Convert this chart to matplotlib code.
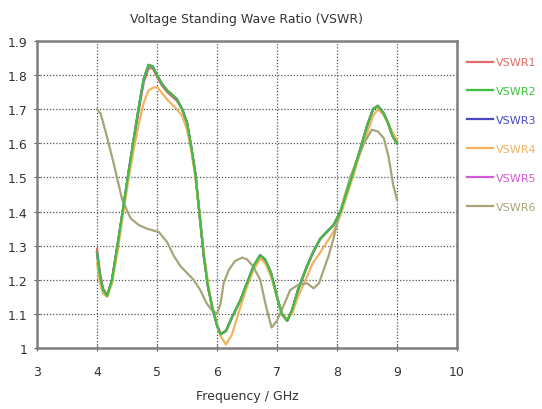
import matplotlib
matplotlib.use("Agg")
import matplotlib.pyplot as plt

plt.rcParams['font.family'] = ['DejaVu Sans']

title = "Voltage Standing Wave Ratio (VSWR)"
xlabel = "Frequency / GHz"
labels = ["VSWR1", "VSWR2", "VSWR3", "VSWR4", "VSWR5", "VSWR6"]
colors = ["#e46a6a", "#3fbf3f", "#4a4ac8", "#f2b35e", "#d45ad4", "#a8a47a"]

x_main = [4.0, 4.05, 4.1, 4.17, 4.25, 4.35, 4.44, 4.53, 4.61, 4.7, 4.78, 4.86, 4.93, 5.0,
          5.08, 5.17, 5.33, 5.42, 5.5, 5.57, 5.64, 5.71, 5.78, 5.85, 5.92, 6.0, 6.06, 6.15,
          6.25, 6.39, 6.5, 6.61, 6.72, 6.8, 6.9, 7.0, 7.08, 7.17, 7.25, 7.35, 7.5, 7.6, 7.72,
          7.83, 7.94, 8.06, 8.17, 8.28, 8.4, 8.5, 8.6, 8.68, 8.77, 8.85, 8.93, 9.0]

vswr2 = [1.28, 1.21, 1.17, 1.153, 1.20, 1.31, 1.415, 1.52, 1.61, 1.71, 1.79, 1.83, 1.825, 1.80,
         1.775, 1.755, 1.73, 1.70, 1.66, 1.59, 1.51, 1.39, 1.27, 1.18, 1.12, 1.066, 1.04, 1.05,
         1.09, 1.14, 1.19, 1.24, 1.272, 1.26, 1.22, 1.15, 1.10, 1.08, 1.11, 1.17, 1.24, 1.28, 1.32,
         1.34, 1.36, 1.40, 1.46, 1.52, 1.59, 1.65, 1.70, 1.71, 1.69, 1.66, 1.62, 1.60]
vswr1 = [1.29, 1.22, 1.175, 1.155, 1.20, 1.31, 1.41, 1.515, 1.605, 1.70, 1.78, 1.82, 1.82, 1.795,
         1.77, 1.75, 1.725, 1.70, 1.66, 1.59, 1.51, 1.39, 1.27, 1.18, 1.12, 1.068, 1.042, 1.05,
         1.09, 1.14, 1.19, 1.24, 1.27, 1.258, 1.22, 1.15, 1.10, 1.08, 1.11, 1.17, 1.24, 1.28, 1.32,
         1.34, 1.36, 1.40, 1.46, 1.52, 1.59, 1.65, 1.70, 1.71, 1.69, 1.66, 1.62, 1.60]
vswr3 = list(vswr2)
vswr5 = list(vswr2)
vswr4 = [1.25, 1.19, 1.16, 1.15, 1.19, 1.29, 1.40, 1.50, 1.58, 1.66, 1.72, 1.755, 1.763, 1.765,
         1.748, 1.728, 1.70, 1.68, 1.64, 1.58, 1.50, 1.39, 1.28, 1.19, 1.12, 1.07, 1.035, 1.01,
         1.04, 1.12, 1.18, 1.23, 1.262, 1.25, 1.21, 1.15, 1.10, 1.085, 1.10, 1.15, 1.21, 1.25, 1.28,
         1.31, 1.34, 1.39, 1.45, 1.51, 1.58, 1.63, 1.68, 1.70, 1.685, 1.66, 1.63, 1.61]

x_six = [4.0, 4.06, 4.15, 4.28, 4.42, 4.56, 4.7, 4.83, 5.03, 5.17, 5.28, 5.39, 5.5, 5.61, 5.72,
         5.83, 5.92, 6.0, 6.06, 6.11, 6.2, 6.3, 6.42, 6.5, 6.6, 6.72, 6.82, 6.91, 7.0, 7.1, 7.22,
         7.35, 7.5, 7.61, 7.7, 7.78, 7.86, 7.94, 8.02, 8.11, 8.22, 8.33, 8.45, 8.58, 8.68, 8.78,
         8.86, 8.94, 9.0]
vswr6 = [1.70, 1.687, 1.63, 1.54, 1.435, 1.38, 1.36, 1.35, 1.34, 1.31, 1.27, 1.24, 1.22, 1.20, 1.17,
         1.13, 1.11, 1.10, 1.13, 1.19, 1.23, 1.255, 1.265, 1.26, 1.24, 1.20, 1.12, 1.06, 1.08, 1.12, 1.17,
         1.185, 1.19, 1.175, 1.19, 1.23, 1.27, 1.32, 1.38, 1.435, 1.50, 1.55, 1.60, 1.64, 1.635, 1.615,
         1.56, 1.475, 1.435]

xticks = [3, 4, 5, 6, 7, 8, 9, 10]
yticks = [1.0, 1.1, 1.2, 1.3, 1.4, 1.5, 1.6, 1.7, 1.8, 1.9]
ytick_labels = ["1", "1.1", "1.2", "1.3", "1.4", "1.5", "1.6", "1.7", "1.8", "1.9"]

fig = plt.figure(figsize=(5.42, 4.10), dpi=100)
ax = fig.add_axes([37/542, 1-349/410, 420/542, 307/410])

series = [(x_main, vswr1, 0), (x_main, vswr2, 1), (x_main, vswr3, 2),
          (x_main, vswr4, 3), (x_main, vswr5, 4), (x_six, vswr6, 5)]
zorders = [2, 5, 2.5, 4, 3, 4.5]
handles = []
for xs, ys, i in series:
    h, = ax.plot(xs, ys, color=colors[i], lw=1.6, zorder=zorders[i], label=labels[i])
    handles.append(h)

ax.set_xlim(3, 10)
ax.set_ylim(1.0, 1.9)
ax.set_xticks(xticks)
ax.set_yticks(yticks)
ax.set_yticklabels(ytick_labels)
ax.grid(True, color="#555555", linestyle=(0, (1, 1.5)), lw=0.9)
for s in ax.spines.values():
    s.set_color("#808080")
    s.set_linewidth(1.8)
ax.tick_params(axis='both', direction='inout', length=4, color="#606060",
               labelsize=9, labelcolor="#333333", pad=5)
ax.tick_params(axis='x', pad=10)
ax.set_title(title, fontsize=9, color="#333333", pad=14)
ax.set_xlabel(xlabel, fontsize=9, color="#333333", labelpad=8)

leg = fig.legend(handles=handles, labels=labels, loc="upper left",
                 bbox_to_anchor=(463/542, 1-54/410), frameon=False,
                 handlelength=2.3, labelspacing=1.7, fontsize=8, handletextpad=0.3,
                 borderaxespad=0)
for t, c in zip(leg.get_texts(), colors):
    t.set_color(c)

fig.savefig("out.png", dpi=100)
